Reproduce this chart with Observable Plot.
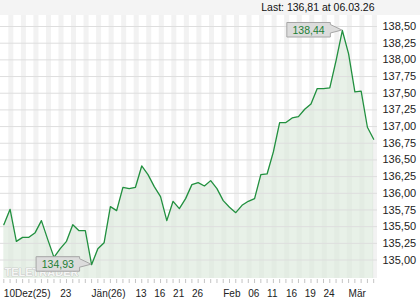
<!DOCTYPE html>
<html><head><meta charset="utf-8">
<script src="https://cdn.jsdelivr.net/npm/d3@7"></script>
<script src="https://cdn.jsdelivr.net/npm/@observablehq/plot@0.6"></script>
<style>
html,body{margin:0;padding:0;background:#fff;}
#chart svg{display:block;}
</style></head><body><div id="chart"></div>
<script>
// Trading days (Dec 2025 – Mar 2026)
const dates = [
  "2025-12-10","2025-12-11","2025-12-12","2025-12-15","2025-12-16","2025-12-17","2025-12-18","2025-12-19","2025-12-22","2025-12-23",
  "2025-12-24","2025-12-29","2025-12-30","2025-12-31","2026-01-02","2026-01-05","2026-01-06","2026-01-07","2026-01-08","2026-01-09",
  "2026-01-12","2026-01-13","2026-01-14","2026-01-15","2026-01-16","2026-01-19","2026-01-20","2026-01-21","2026-01-22","2026-01-23",
  "2026-01-26","2026-01-27","2026-01-28","2026-01-29","2026-01-30","2026-02-02","2026-02-03","2026-02-04","2026-02-05","2026-02-06",
  "2026-02-09","2026-02-10","2026-02-11","2026-02-12","2026-02-13","2026-02-16","2026-02-17","2026-02-18","2026-02-19","2026-02-20",
  "2026-02-23","2026-02-24","2026-02-25","2026-02-26","2026-02-27","2026-03-02","2026-03-03","2026-03-04","2026-03-05","2026-03-06"
];
// Closing prices
const values = [
  135.53,135.76,135.28,135.34,135.34,135.41,135.59,135.31,135.04,135.17,
  135.28,135.53,135.44,135.44,134.93,135.17,135.26,135.80,135.74,136.09,
  136.07,136.09,136.41,136.28,136.10,135.95,135.59,135.88,135.77,135.92,
  136.13,136.16,136.11,136.19,136.07,135.89,135.79,135.71,135.82,135.88,
  135.92,136.28,136.29,136.62,137.06,137.06,137.13,137.15,137.26,137.34,
  137.57,137.57,137.58,137.99,138.44,138.09,137.52,137.53,136.99,136.81
];
// X tick labels
const tickDates = ["2025-12-10","2025-12-23","2026-01-02","2026-01-13","2026-01-16","2026-01-21","2026-01-26",
  "2026-02-02","2026-02-06","2026-02-11","2026-02-16","2026-02-19","2026-02-24","2026-03-02"];
const tickLabels = ["10Dez(25)","23","Jän(26)","13","16","21","26","Feb","06","11","16","19","24","Mär"];
// Y tick values
const yTicks = [135.00,135.25,135.50,135.75,136.00,136.25,136.50,136.75,137.00,137.25,137.50,137.75,138.00,138.25,138.50];
const watermark = "TELETRADER";
const lastPrefix = "Last: ";

const FONT = "'Liberation Sans', Arial, Helvetica, sans-serif";
const n = values.length;
const data = values.map((v, i) => ({i, v, date: dates[i]}));
const fmt = v => d3.format(".2f")(v).replace(".", ",");
const yDomain = [134.723, 138.665];
const xDomain = [-0.53, n - 1 + 0.61];
const tickIdx = tickDates.map(t => dates.indexOf(t));
const labelOf = new Map(tickIdx.map((k, j) => [k, tickLabels[j]]));
const iMax = d3.maxIndex(values), iMin = d3.minIndex(values);
const stripes = d3.range(1, n, 2);
const lastDate = dates[n - 1].split("-");
const lastText = `${lastPrefix}${fmt(values[n - 1])} at ${lastDate[2]}.${lastDate[1]}.${lastDate[0].slice(2)}`;

function headerBand(index, scales, vals, dims) {
  const r = d3.create("svg:rect")
    .attr("x", 0).attr("y", 0).attr("width", dims.width).attr("height", dims.marginTop)
    .attr("fill", "#f4f4f4");
  return r.node();
}

function callout(idx) {
  return (index, scales) => {
    const px = scales.x(idx), py = scales.y(values[idx]);
    const L = px - 55, R = px - 11.5, T = py - 7.5, B = py + 7;
    const g = d3.create("svg:g");
    g.append("path")
      .attr("d", `M${L},${T}H${R}V${T + 2}L${px},${py}L${R},${B - 4}V${B}H${L}Z`)
      .attr("fill", "#dcdcdc").attr("stroke", "#a6a6a6").attr("stroke-width", 1);
    g.append("text")
      .attr("x", (L + R) / 2).attr("y", (T + B) / 2).attr("dy", "0.36em")
      .attr("text-anchor", "middle").attr("fill", "#1b7f34")
      .attr("font-family", FONT).attr("font-size", 10.5)
      .text(fmt(values[idx]));
    return g.node();
  };
}

const chart = Plot.plot({
  width: 420, height: 300,
  marginLeft: 0, marginRight: 43, marginTop: 15, marginBottom: 22,
  style: {fontFamily: FONT, background: "#fff", color: "#222", overflow: "visible"},
  x: {type: "linear", domain: xDomain, axis: null, label: null},
  y: {domain: yDomain, axis: null, label: null},
  marks: [
    headerBand,
    Plot.rect(stripes, {x1: d => d - 0.2, x2: d => d + 0.6, y1: yDomain[0], y2: yDomain[1], fill: "#f2f2f2"}),
    Plot.areaY(data, {x: "i", y1: yDomain[0], y2: "v", fill: "#d8e8d8", fillOpacity: 0.6}),
    Plot.gridY(yTicks, {stroke: "#dedede", strokeOpacity: 1}),
    Plot.axisY(yTicks, {anchor: "right", label: null, tickSize: 0, tickPadding: 5, tickFormat: fmt, fontSize: 11, fill: "#222"}),
    Plot.axisX(d3.range(n), {anchor: "bottom", label: null, tickSize: 4, dy: 1, tickFormat: () => "", stroke: "#c4c4c4"}),
    Plot.axisX(tickIdx, {anchor: "bottom", label: null, tickSize: 0, tickPadding: 11, textAnchor: "start",
      tickFormat: d => labelOf.get(d), fontSize: 10, fill: "#222"}),
    Plot.text([watermark], {frameAnchor: "bottom-left", dx: 4, dy: -3, lineAnchor: "bottom", textAnchor: "start",
      fontSize: 11, fontWeight: "bold", fill: "#f6f6f6", stroke: "#b5b5b5", strokeWidth: 0.7}),
    Plot.lineY(data, {x: "i", y: "v", stroke: "#21903f", strokeWidth: 1.3}),
    callout(iMax),
    callout(iMin),
    Plot.text([lastText], {frameAnchor: "top-right", dx: -3, dy: -4.5, lineAnchor: "bottom", textAnchor: "end",
      fontSize: 10.5, fill: "#111"})
  ]
});
document.getElementById("chart").append(chart);
</script>
</body></html>
